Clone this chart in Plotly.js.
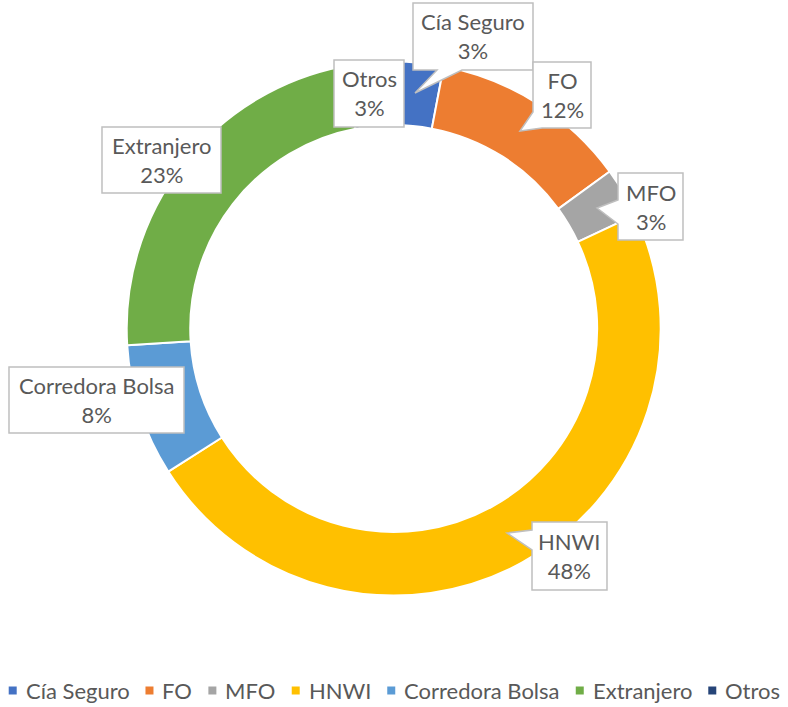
<!DOCTYPE html>
<html>
<head>
<meta charset="utf-8">
<script src="https://cdn.plot.ly/plotly-3.0.1.min.js"></script>
<style>html,body{margin:0;padding:0;background:#fff;}#chart{width:788px;height:707px;}</style>
</head>
<body>
<div id="chart"></div>
<script>
const categories = ["Cía Seguro", "FO", "MFO", "HNWI", "Corredora Bolsa", "Extranjero", "Otros"];
const values = [3, 12, 3, 48, 8, 23, 3];
const colors = ["#4472C4", "#ED7D31", "#A5A5A5", "#FFC000", "#5B9BD5", "#70AD47", "#264478"];

const W = 788, H = 707;
const FONT = "Lato, 'Open Sans', sans-serif";
const FSIZE = 22;
const TXT = "#595959";
const px = x => x / W;
const py = y => 1 - y / H;

// callout boxes (pixel layout): box [x0,y0,x1,y1], optional tail [baseA, tip, baseB]
const callouts = [
  {box: [413, 3, 533, 70], tail: [[462, 70], [415, 93], [437, 70]]},
  {box: [533, 62, 591, 128], tail: [[542, 128], [520, 131], [533, 112]]},
  {box: [618, 173, 683, 240], tail: [[618, 224], [597, 208], [618, 200]]},
  {box: [532, 522, 607, 590], tail: [[532, 530], [507, 533], [532, 550]]},
  {box: [9, 367, 184, 433], tail: null},
  {box: [102, 127, 221, 193], tail: null},
  {box: [334, 60, 404, 127], tail: null}
];

function calloutPath(c) {
  const [x0, y0, x1, y1] = c.box;
  let pts = [[x0, y0], [x1, y0], [x1, y1], [x0, y1]];
  if (c.tail) {
    const [a, t, b] = c.tail;
    if (a[1] === y1 && b[1] === y1) {
      pts = [[x0, y0], [x1, y0], [x1, y1], a, t, b, [x0, y1]];
    } else if (a[0] === x0 && b[0] === x0) {
      const lo = a[1] > b[1] ? a : b, hi = a[1] > b[1] ? b : a;
      pts = [[x0, y0], [x1, y0], [x1, y1], [x0, y1], lo, t, hi];
    } else {
      pts = [[x0, y0], [x1, y0], [x1, y1], a, t, b];
    }
  }
  return pts.map((p, i) => (i ? "L" : "M") + px(p[0]).toFixed(5) + "," + py(p[1]).toFixed(5)).join(" ") + " Z";
}

const total = values.reduce((s, v) => s + v, 0);
const shapes = callouts.map(c => ({
  type: "path", xref: "paper", yref: "paper", path: calloutPath(c),
  fillcolor: "#FFFFFF", line: {color: "#BFBFBF", width: 1.5}, layer: "above"
}));
const annotations = callouts.map((c, i) => ({
  xref: "paper", yref: "paper",
  x: px((c.box[0] + c.box[2]) / 2), y: py((c.box[1] + c.box[3]) / 2),
  xanchor: "center", yanchor: "middle", showarrow: false, align: "center",
  text: categories[i] + "<br>" + Math.round(values[i] / total * 100) + "%",
  font: {family: FONT, size: FSIZE, color: TXT}
}));

// legend row (Excel style: small square, text), laid out from measured text widths
const ctx = document.createElement("canvas").getContext("2d");
ctx.font = FSIZE + "px Lato";
const MK = 8, GAP1 = 8, GAP2 = 17, LEG_Y = 690.5;
const tw = categories.map(t => ctx.measureText(t).width);
const legW = tw.reduce((s, w) => s + w, 0) + categories.length * (MK + GAP1 + GAP2) - GAP2;
let lx = (W - legW) / 2;
categories.forEach((cat, i) => {
  shapes.push({type: "rect", xref: "paper", yref: "paper",
    x0: px(lx), x1: px(lx + MK), y0: py(LEG_Y + MK / 2), y1: py(LEG_Y - MK / 2),
    fillcolor: colors[i], line: {width: 0}, layer: "above"});
  annotations.push({xref: "paper", yref: "paper", x: px(lx + MK + GAP1), y: py(LEG_Y),
    xanchor: "left", yanchor: "middle", showarrow: false, text: cat,
    borderpad: 0, font: {family: FONT, size: FSIZE, color: TXT}});
  lx += MK + GAP1 + tw[i] + GAP2;
});

const trace = {
  type: "pie", labels: categories, values: values, sort: false,
  direction: "clockwise", rotation: 0, hole: 0.762,
  marker: {colors: colors, line: {color: "#FFFFFF", width: 2}},
  textinfo: "none", hoverinfo: "none", automargin: false,
  domain: {x: [px(126.7), px(660.7)], y: [py(595.5), py(61.5)]}
};

const layout = {
  width: W, height: H, margin: {l: 0, r: 0, t: 0, b: 0, pad: 0, autoexpand: false},
  paper_bgcolor: "#FFFFFF", plot_bgcolor: "#FFFFFF",
  showlegend: false,
  shapes: shapes, annotations: annotations
};

Plotly.newPlot("chart", [trace], layout, {displayModeBar: false, staticPlot: true});
</script>
</body>
</html>
